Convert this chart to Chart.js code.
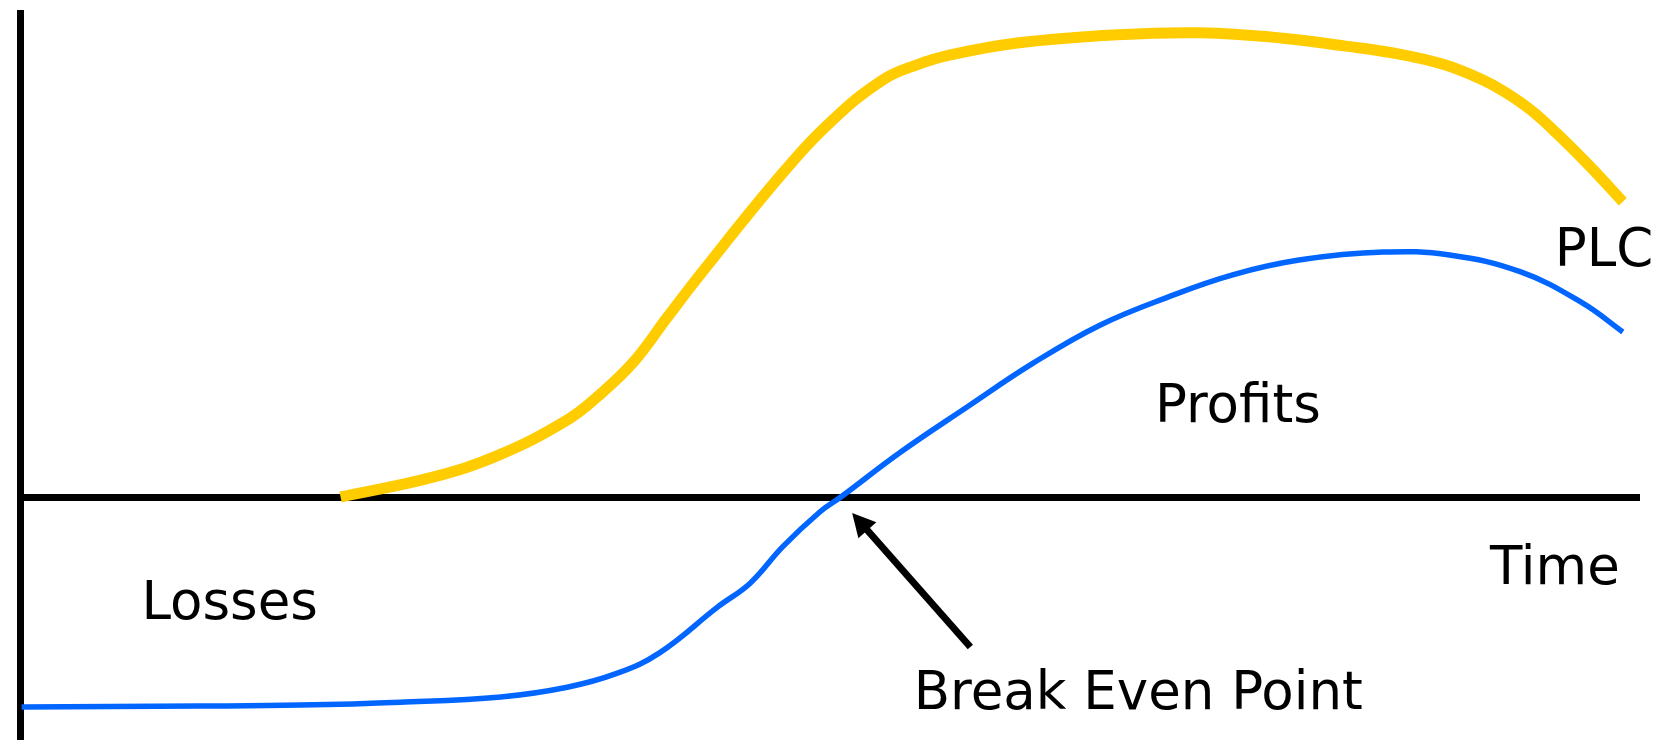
<!DOCTYPE html>
<html>
<head>
<meta charset="utf-8">
<script src="https://cdn.jsdelivr.net/npm/chart.js@4/dist/chart.umd.min.js"></script>
<style>
  html, body { margin: 0; padding: 0; background: #fff; }
  canvas { display: block; }
</style>
</head>
<body>
<canvas id="plcChart" width="1663" height="743"></canvas>
<script>
// product life cycle (yellow) - time on x, level on y
const plcTime  = [19.8, 25.5, 29.6, 33.8, 35.8, 37.9, 40.0, 42.0, 47.1, 50.2, 53.3, 55.4, 57.4, 61.6, 67.8, 72.9, 78.0, 81.8, 85.2, 88.0, 90.2, 91.7, 93.3, 94.9, 97.0, 99.0]
const plcValue = [0.0, 4.1, 8.7, 15.9, 21.1, 27.9, 37.2, 45.9, 66.9, 77.9, 86.2, 89.3, 91.3, 93.8, 95.5, 95.9, 94.8, 93.2, 91.5, 89.3, 86.4, 83.7, 80.0, 75.2, 68.2, 61.0]

// profits / losses (blue)
const profitTime  = [0.1, 11.1, 17.3, 23.5, 29.7, 33.8, 36.9, 39.5, 43.1, 45.1, 47.1, 49.4, 50.7, 54.4, 58.5, 62.6, 66.7, 70.9, 74.9, 79.1, 84.2, 88.3, 92.7, 96.5, 99.0]
const profitValue = [-43.4, -43.2, -43.0, -42.4, -41.3, -39.3, -36.4, -32.2, -22.7, -17.8, -10.3, -3.1, 0.0, 9.3, 18.6, 27.7, 35.5, 41.3, 45.9, 49.0, 50.6, 50.0, 46.5, 40.1, 34.1]

// text labels, anchored in data units (left edge, baseline)
const labelText = ['Losses', 'Profits', 'PLC', 'Time', 'Break Even Point']
const labelTime = [7.5, 70.1, 94.8, 90.8, 55.2]
const labelValue = [-25.2, 15.5, 47.7, -18.0, -43.8]

// arrow pointing at the break even point
const arrowFrom = { x: 58.7, y: -31.0 }
const arrowTo   = { x: 51.4, y: -3.3 }

function toPoints(xs, ys) {
  return xs.map((x, i) => ({ x: x, y: ys[i] }))
}

const textPlugin = {
  id: 'plcText',
  afterDraw(chart) {
    const { ctx, scales: { x, y } } = chart
    ctx.save()

    // arrow
    const x1 = x.getPixelForValue(arrowFrom.x), y1 = y.getPixelForValue(arrowFrom.y)
    const x2 = x.getPixelForValue(arrowTo.x), y2 = y.getPixelForValue(arrowTo.y)
    const ang = Math.atan2(y2 - y1, x2 - x1)
    const headLen = 23, headHalf = 12
    const bx = x2 - headLen * Math.cos(ang), by = y2 - headLen * Math.sin(ang)
    ctx.strokeStyle = '#000'
    ctx.lineWidth = 7
    ctx.beginPath()
    ctx.moveTo(x1, y1)
    ctx.lineTo(bx + 4 * Math.cos(ang), by + 4 * Math.sin(ang))
    ctx.stroke()
    ctx.fillStyle = '#000'
    ctx.beginPath()
    ctx.moveTo(x2, y2)
    ctx.lineTo(bx + headHalf * Math.sin(ang), by - headHalf * Math.cos(ang))
    ctx.lineTo(bx - headHalf * Math.sin(ang), by + headHalf * Math.cos(ang))
    ctx.closePath()
    ctx.fill()

    // labels
    ctx.font = '53px "DejaVu Sans"'
    ctx.textAlign = 'left'
    ctx.textBaseline = 'alphabetic'
    labelText.forEach((t, i) => {
      ctx.fillText(t, x.getPixelForValue(labelTime[i]), y.getPixelForValue(labelValue[i]))
    })
    ctx.restore()
  }
}

const data = {
  datasets: [{
    label: 'PLC',
    data: toPoints(plcTime, plcValue),
    borderColor: '#ffcc00',
    borderWidth: 11,
    pointRadius: 0,
    tension: 0.4,
    fill: false
  }, {
    label: 'Profits',
    data: toPoints(profitTime, profitValue),
    borderColor: '#0066ff',
    borderWidth: 5.5,
    pointRadius: 0,
    tension: 0.4,
    fill: false
  }]
}

const options = {
  responsive: false,
  animation: false,
  devicePixelRatio: 1,
  layout: { padding: { left: 20, right: 24, top: 13, bottom: 4 } },
  scales: {
    x: {
      type: 'linear',
      min: 0,
      max: 100,
      position: { y: 0 },
      grid: { display: false, drawTicks: false },
      ticks: { display: false },
      border: { display: true, color: '#000', width: 7 }
    },
    y: {
      type: 'linear',
      min: -50,
      max: 100,
      position: 'left',
      grid: { display: false, drawTicks: false },
      ticks: { display: false },
      border: { display: true, color: '#000', width: 7 }
    }
  },
  plugins: {
    legend: { display: false },
    tooltip: { enabled: false }
  }
}

new Chart(document.getElementById('plcChart'), {
  type: 'line',
  data: data,
  options: options,
  plugins: [textPlugin]
})
</script>
</body>
</html>
